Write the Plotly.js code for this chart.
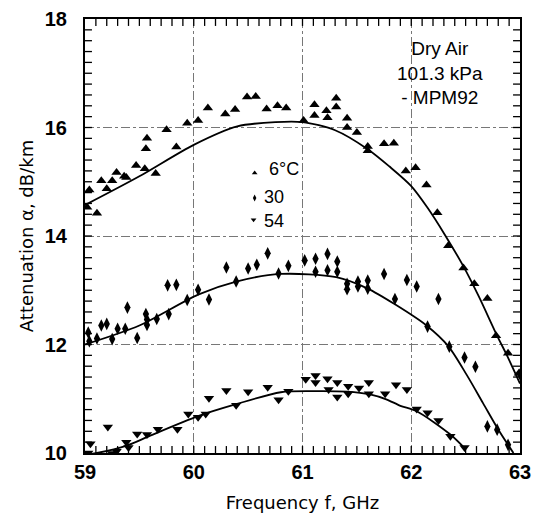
<!DOCTYPE html>
<html>
<head>
<meta charset="utf-8">
<script src="https://cdn.plot.ly/plotly-3.0.1.min.js"></script>
<style>html,body{margin:0;padding:0;background:#fff;}#chart{width:533px;height:525px;}</style>
</head>
<body>
<div id="chart"></div>
<script>
// Measured data, 6 °C (triangle up)
const f6 = [59.04,59.02,59.11,59.15,59.20,59.25,59.29,59.36,59.38,59.47,59.55,59.56,59.57,59.65,59.75,59.84,59.94,60.04,60.13,60.29,60.38,60.49,60.57,60.67,60.77,60.85,61.01,61.11,61.11,61.22,61.23,61.31,61.31,61.41,61.41,61.50,61.60,61.60,61.75,61.84,61.95,62.04,62.14,62.24,62.34,62.48,62.58,62.70,62.78,62.89,62.99];
const a6 = [14.85,14.53,14.42,15.02,14.87,15.02,15.17,15.10,15.08,15.30,15.24,15.61,15.80,15.15,15.96,15.64,16.08,16.13,16.36,16.25,16.33,16.56,16.57,16.34,16.40,16.36,16.13,16.42,16.22,16.31,16.18,16.54,16.38,16.17,16.00,15.91,15.65,15.57,15.70,15.71,15.20,15.26,14.94,14.43,13.82,13.41,13.12,12.85,12.16,11.84,11.47];
// Measured data, 30 °C (diamond)
const f30 = [59.03,59.04,59.11,59.15,59.20,59.25,59.30,59.37,59.39,59.48,59.56,59.57,59.57,59.66,59.76,59.77,59.84,59.94,60.04,60.14,60.30,60.39,60.50,60.58,60.68,60.78,60.87,61.02,61.12,61.12,61.23,61.23,61.32,61.32,61.41,61.41,61.51,61.51,61.60,61.60,61.75,61.85,61.96,62.05,62.15,62.25,62.35,62.49,62.59,62.70,62.79,62.89,63.00];
const a30 = [12.22,12.06,12.11,12.35,12.38,12.10,12.29,12.29,12.68,12.12,12.56,12.46,12.36,12.47,13.09,12.56,13.10,12.82,13.01,12.83,13.42,13.16,13.40,13.47,13.68,13.31,13.45,13.55,13.58,13.34,13.67,13.37,13.53,13.34,13.12,13.02,13.16,13.07,13.18,13.03,13.30,12.84,13.19,13.07,12.33,12.84,11.96,11.76,11.59,10.49,10.43,10.15,11.45];
// Measured data, 54 °C (triangle down)
const f54 = [59.05,59.03,59.21,59.25,59.29,59.38,59.40,59.48,59.57,59.67,59.85,59.95,60.04,60.11,60.14,60.30,60.39,60.50,60.68,60.78,60.87,61.03,61.12,61.12,61.23,61.24,61.32,61.32,61.42,61.42,61.52,61.61,61.61,61.76,61.86,61.96,62.05,62.15,62.25,62.36,62.49];
const a54 = [10.17,10.00,10.48,9.99,10.03,10.20,10.10,10.35,10.34,10.44,10.44,10.72,10.66,10.72,11.01,11.15,10.88,11.13,11.21,10.98,11.14,11.36,11.43,11.30,11.37,11.17,11.30,11.03,11.23,11.09,11.20,11.30,11.09,11.09,11.26,11.17,10.81,10.74,10.60,10.31,10.10];
// MPM92 model curves
const fm6 = [59.0,59.5,60.0,60.4,60.75,61.0,61.3,61.6,61.8,62.0,62.15,62.31,62.48,62.62,62.79,62.88,63.0];
const am6 = [14.57,15.1,15.68,16.02,16.1,16.1,15.95,15.60,15.28,14.92,14.52,14.02,13.44,12.89,12.16,11.80,11.28];
const fm30 = [59.0,59.5,60.04,60.39,60.8,61.31,61.6,61.85,62.14,62.34,62.51,62.66,62.81,62.94];
const am30 = [12.0,12.35,12.92,13.16,13.30,13.24,13.03,12.74,12.35,11.97,11.44,10.92,10.40,10.0];
const fm54 = [59.0,59.11,59.39,59.6,60.04,60.39,60.8,61.1,61.41,61.62,61.77,61.90,62.05,62.36,62.49];
const am54 = [9.97,10.0,10.14,10.32,10.68,10.9,11.12,11.14,11.13,11.08,10.99,10.87,10.77,10.34,10.09];
const xTicks = [59,60,61,62,63];
const yTicks = [10,12,14,16,18];
const xMinorStep = 0.1;
const yMinorStep = 0.2;
const legendLabels = ['6°C', '30', '54'];

const xr = [xTicks[0], xTicks[xTicks.length - 1]];
const yr = [yTicks[0], yTicks[yTicks.length - 1]];

// inside tick marks on all four sides, drawn as axis-decoration shapes
const xMinor = [], yMinor = [];
for (let i = 1; xr[0] + i * xMinorStep < xr[1] - 1e-9; i++) xMinor.push(+(xr[0] + i * xMinorStep).toFixed(3));
for (let i = 1; yr[0] + i * yMinorStep < yr[1] - 1e-9; i++) yMinor.push(+(yr[0] + i * yMinorStep).toFixed(3));
const tickShapes = [];
const tl = 0.016; // tick length as a fraction of the plot area
const tickLine = {color: '#000', width: 1.3};
xMinor.forEach(v => {
  tickShapes.push({type: 'line', xref: 'x', yref: 'paper', x0: v, x1: v, y0: 0, y1: tl, line: tickLine, layer: 'above'});
  tickShapes.push({type: 'line', xref: 'x', yref: 'paper', x0: v, x1: v, y0: 1 - tl, y1: 1, line: tickLine, layer: 'above'});
});
yMinor.forEach(v => {
  tickShapes.push({type: 'line', xref: 'paper', yref: 'y', x0: 0, x1: tl, y0: v, y1: v, line: tickLine, layer: 'above'});
  tickShapes.push({type: 'line', xref: 'paper', yref: 'y', x0: 1 - tl, x1: 1, y0: v, y1: v, line: tickLine, layer: 'above'});
});

const mk = (sym, sz) => ({symbol: sym, size: sz, color: '#000', line: {width: 0}});
const lineStyle = {color: '#000', width: 1.8, shape: 'spline', smoothing: 0.8};
const traces = [
  {x: f6, y: a6, mode: 'markers', marker: mk('triangle-up', 9)},
  {x: f30, y: a30, mode: 'markers', marker: mk('diamond-tall', 9)},
  {x: f54, y: a54, mode: 'markers', marker: mk('triangle-down', 9)},
  {x: fm6, y: am6, mode: 'lines', line: lineStyle},
  {x: fm30, y: am30, mode: 'lines', line: lineStyle},
  {x: fm54, y: am54, mode: 'lines', line: lineStyle},
  // in-plot legend markers
  {x: [60.56, 60.56, 60.55], y: [15.16, 14.70, 14.30], mode: 'markers',
   marker: {symbol: ['triangle-up','diamond-tall','triangle-down'], size: 5, color: '#000'}}
];

const tickFont = {family: 'Liberation Sans, Arial, sans-serif', size: 20, color: '#000', weight: 'bold'};
const titleFont = {family: 'DejaVu Sans, sans-serif', size: 18, color: '#000'};
const narrowFont = {family: 'Liberation Sans Narrow, Arial Narrow, Liberation Sans, sans-serif', size: 18, color: '#000'};
const layout = {
  width: 533, height: 525,
  margin: {l: 85, r: 13, t: 19, b: 72},
  paper_bgcolor: '#fff', plot_bgcolor: '#fff',
  showlegend: false,
  shapes: tickShapes,
  xaxis: {
    range: xr, tickmode: 'array', tickvals: xTicks, ticktext: xTicks.map(String),
    showline: true, linecolor: '#000', linewidth: 2, mirror: true,
    ticks: '', showgrid: true, gridcolor: '#777', gridwidth: 1, griddash: 'dashdot',
    zeroline: false, tickfont: tickFont, fixedrange: true,
    title: {text: 'Frequency f, GHz', font: titleFont, standoff: 14}
  },
  yaxis: {
    range: yr, tickmode: 'array', tickvals: yTicks, ticktext: yTicks.map(String),
    showline: true, linecolor: '#000', linewidth: 2, mirror: true,
    ticks: '', showgrid: true, gridcolor: '#777', gridwidth: 1, griddash: 'dashdot',
    zeroline: false, tickfont: tickFont, ticklabelstandoff: 12, fixedrange: true,
    title: {text: 'Attenuation α, dB/km', font: titleFont, standoff: 6}
  },
  annotations: [
    {x: 62.26, y: 17.01, xref: 'x', yref: 'y', text: 'Dry Air<br>101.3 kPa<br>- MPM92', showarrow: false,
     font: {family: 'Liberation Sans, Arial, sans-serif', size: 19, color: '#000'}, align: 'center'},
    {x: 60.67, y: 15.24, xref: 'x', yref: 'y', text: legendLabels[0], showarrow: false, xanchor: 'left', font: narrowFont},
    {x: 60.63, y: 14.71, xref: 'x', yref: 'y', text: legendLabels[1], showarrow: false, xanchor: 'left', font: narrowFont},
    {x: 60.63, y: 14.28, xref: 'x', yref: 'y', text: legendLabels[2], showarrow: false, xanchor: 'left', font: narrowFont}
  ]
};
Plotly.newPlot('chart', traces, layout, {displayModeBar: false, staticPlot: true});
</script>
</body>
</html>
